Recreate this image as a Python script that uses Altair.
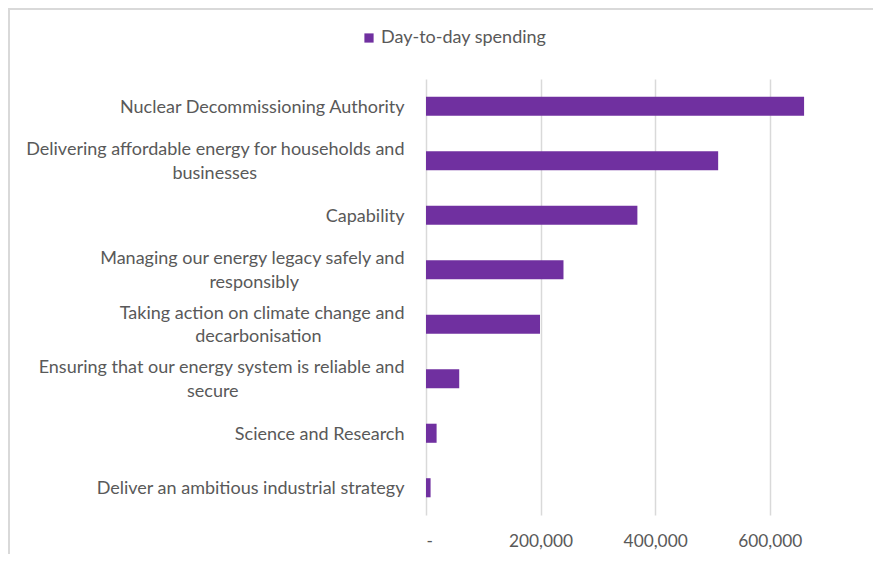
import altair as alt
import pandas as pd

categories = [
    ["Nuclear Decommissioning Authority"],
    ["Delivering affordable energy for households and", "businesses"],
    ["Capability"],
    ["Managing our energy legacy safely and", "responsibly"],
    ["Taking action on climate change and", "decarbonisation"],
    ["Ensuring that our energy system is reliable and", "secure"],
    ["Science and Research"],
    ["Deliver an ambitious industrial strategy"],
]
values = [660000, 510000, 369000, 240000, 199000, 58000, 18500, 8000]
series_name = "Day-to-day spending"
x_ticks = [0, 200000, 400000, 600000]

NBSP = "\u00a0"
ZWSP = "\u200b"


def label_text(lines):
    # Excel centres the wrapped second line under the first one; right-aligned
    # labels are shifted left with non-breaking spaces to imitate that.
    if len(lines) == 1:
        return lines[0]
    pad = round((len(lines[0]) - len(lines[1])) / 2 * 1.75)
    return lines[0] + "|" + lines[1] + NBSP * pad + ZWSP


labels = [label_text(c) for c in categories]
df = pd.DataFrame({"category": labels, "value": values, "series": series_name})

GRAY = "#595959"
FONT = "Lato"
FS = 18

bars = alt.Chart(df).mark_bar(color="#7030A0").encode(
    x=alt.X(
        "value:Q",
        scale=alt.Scale(domain=[0, 700000], nice=False),
        axis=alt.Axis(
            values=x_ticks,
            title=None,
            grid=True,
            gridColor="#d9d9d9",
            gridWidth=1.5,
            ticks=False,
            domain=False,
            labelPadding=17,
            labelFontSize=17.3,
            labelExpr="datum.value == 0 ? '-' : format(datum.value, ',')",
        ),
    ),
    y=alt.Y(
        "category:N",
        sort=labels,
        scale=alt.Scale(paddingInner=0.65, paddingOuter=0.325),
        axis=alt.Axis(
            title=None,
            ticks=False,
            domain=False,
            labelPadding=22,
            labelLimit=410,
            labelLineHeight=23.5,
            labelFontSize=FS,
            labelOffset={
                "condition": {"test": "indexof(datum.value, '|') >= 0", "value": -10.5},
                "value": 1.5,
            },
            labelExpr="split(datum.label, '|')",
        ),
    ),
    color=alt.Color(
        "series:N",
        scale=alt.Scale(range=["#7030A0"]),
        legend=alt.Legend(
            title=None,
            orient="none",
            legendX=-66,
            legendY=-50,
            symbolType="square",
            symbolSize=85,
            symbolStrokeWidth=0,
            labelOffset=3,
            labelLimit=300,
            labelFontSize=FS,
            labelColor=GRAY,
            labelFont=FONT,
        ),
    ),
)

border_left = alt.Chart(alt.Data(values=[{}])).mark_rule(color="#d9d9d9", strokeWidth=2).encode(
    x=alt.value(-417), y=alt.value(-70), y2=alt.value(600)
)
border_top = alt.Chart(alt.Data(values=[{}])).mark_rule(color="#d9d9d9", strokeWidth=2).encode(
    x=alt.value(-418), x2=alt.value(700), y=alt.value(-70)
)

chart = (
    alt.layer(border_left, border_top, bars)
    .properties(
        width=401,
        height=436,
        autosize=alt.AutoSizeParams(type="none"),
        padding={"left": 418, "top": 71, "right": 46, "bottom": 39},
    )
    .configure_view(stroke=None)
    .configure_axis(labelFont=FONT, labelColor=GRAY)
)

chart.save("out.html", embed_options={"renderer": "svg", "actions": False})
